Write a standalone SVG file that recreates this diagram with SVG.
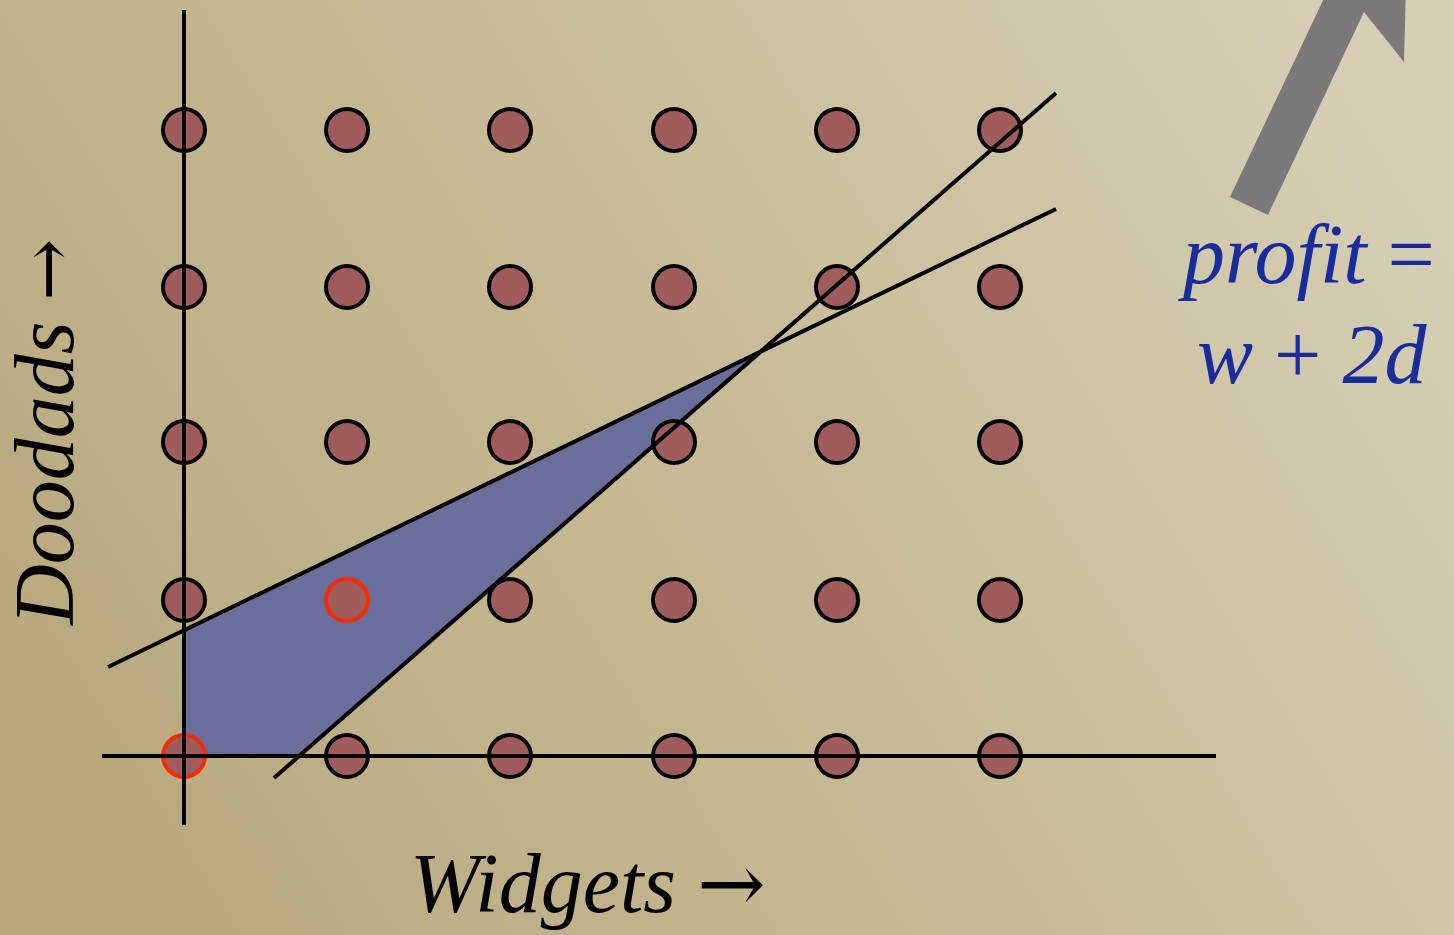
<svg xmlns="http://www.w3.org/2000/svg" width="1454" height="935" viewBox="0 0 1454 935">
<defs>
<linearGradient id="bg" x1="0" y1="0.6" x2="1" y2="0.2">
<stop offset="0" stop-color="#b9aa80"/>
<stop offset="0.55" stop-color="#c9be9b"/>
<stop offset="1" stop-color="#d6cfb6"/>
</linearGradient>
<style>
.ln{stroke:#000;stroke-width:4;fill:none;stroke-linecap:butt}
.dot{fill:#9e5c5d;stroke:#000;stroke-width:4}
.sel{fill:#9e5c5d;stroke:#ff2a00;stroke-width:4}
.lbl{font-family:"Liberation Serif",serif;font-style:italic;font-size:84px;fill:#000}
.prof{font-family:"Liberation Serif",serif;font-style:italic;font-size:84px;fill:#1a2c9c}
.up{font-style:normal}
.arr{font-family:"DejaVu Serif",serif;font-style:normal;font-size:82px}
.arr2{font-family:"DejaVu Serif",serif;font-style:normal;font-size:74px}
</style>
</defs>
<rect width="1454" height="935" fill="url(#bg)"/>
<g id="region">
<polygon points="184,631 760,352 299,756 184,756" fill="#6b6e98"/>
</g>
<g id="dots">
<circle class="dot" cx="347" cy="130" r="21"/><circle class="dot" cx="510" cy="130" r="21"/><circle class="dot" cx="674" cy="130" r="21"/><circle class="dot" cx="837" cy="130" r="21"/><circle class="dot" cx="1000" cy="130" r="21"/>
<circle class="dot" cx="347" cy="287" r="21"/><circle class="dot" cx="510" cy="287" r="21"/><circle class="dot" cx="674" cy="287" r="21"/><circle class="dot" cx="837" cy="287" r="21"/><circle class="dot" cx="1000" cy="287" r="21"/>
<circle class="dot" cx="347" cy="442" r="21"/><circle class="dot" cx="510" cy="442" r="21"/><circle class="dot" cx="674" cy="442" r="21"/><circle class="dot" cx="837" cy="442" r="21"/><circle class="dot" cx="1000" cy="442" r="21"/>
<circle class="dot" cx="510" cy="600" r="21"/><circle class="dot" cx="674" cy="600" r="21"/><circle class="dot" cx="837" cy="600" r="21"/><circle class="dot" cx="1000" cy="600" r="21"/>
<circle class="dot" cx="347" cy="756" r="21"/><circle class="dot" cx="510" cy="756" r="21"/><circle class="dot" cx="674" cy="756" r="21"/><circle class="dot" cx="837" cy="756" r="21"/><circle class="dot" cx="1000" cy="756" r="21"/>
<circle class="dot" cx="184" cy="130" r="21"/><circle class="dot" cx="184" cy="287" r="21"/><circle class="dot" cx="184" cy="442" r="21"/><circle class="dot" cx="184" cy="600" r="21"/>
<circle class="sel" cx="347" cy="600" r="21"/>
<circle class="sel" cx="184" cy="756" r="21"/>
</g>
<g id="lines">
<line class="ln" x1="184" y1="10" x2="184" y2="825"/>
<line class="ln" x1="102" y1="756" x2="1216" y2="756"/>
<line class="ln" x1="108" y1="667" x2="1056" y2="209"/>
<line class="ln" x1="274" y1="778" x2="1056" y2="93"/>
</g>
<g id="arrow">
<polygon points="1230,197 1268,215 1364,12 1404,62 1409,-133 1262,-5 1326,-6" fill="#7a7a7a"/>
</g>
<g id="labels">
<text class="lbl" x="410" y="912">Widgets <tspan class="arr">→</tspan></text>
<text class="lbl" transform="translate(73,625) rotate(-90)">Doodads <tspan class="arr2">→</tspan></text>
<text class="prof" x="1183" y="283">profit <tspan class="up">=</tspan></text>
<text class="prof" x="1197" y="383">w <tspan class="up">+</tspan> 2d</text>
</g>
</svg>
